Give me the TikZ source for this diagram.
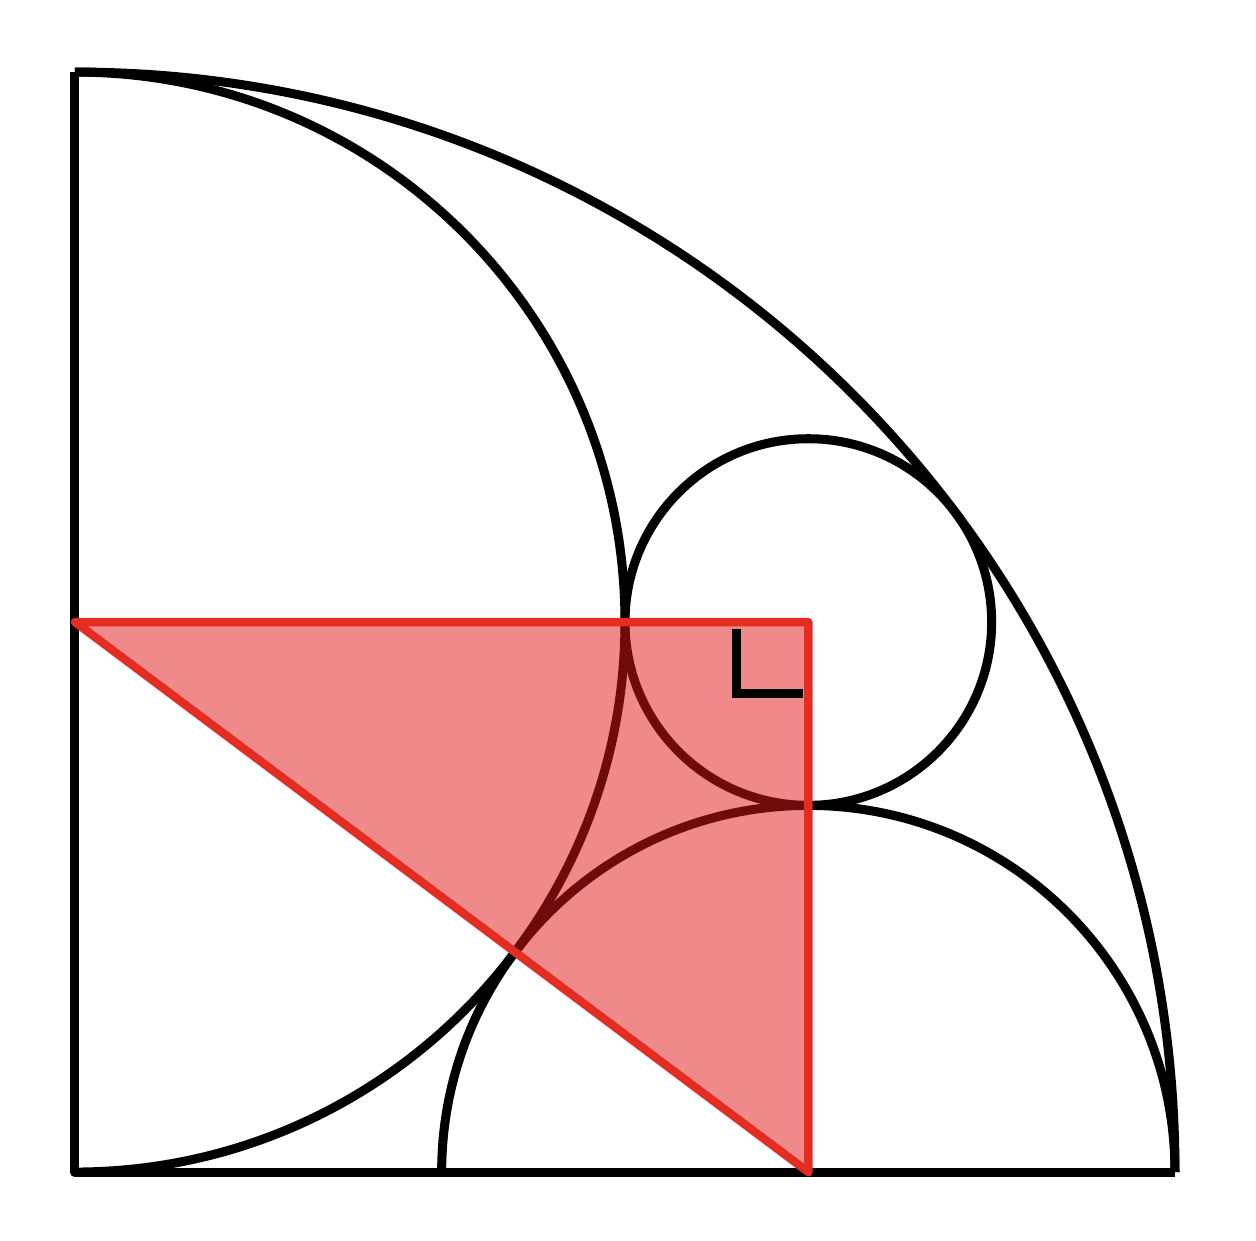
\documentclass[tikz,border=0pt]{standalone}
\usepackage{tikz}
\definecolor{figred}{RGB}{227, 45, 35}
\definecolor{figfill}{RGB}{225, 22, 22}

\begin{document}
\begin{tikzpicture}[line width=1.4pt, line join=round]
        \useasboundingbox (-0.409,-0.371) rectangle (6.442,6.393);
        \coordinate (O) at (0,0);
        \coordinate (T) at (0,6);
        \coordinate (R) at (6,0);
        \coordinate (A) at (0,3);
        \coordinate (B) at (4,3);
        \coordinate (C) at (4,0);
        \coordinate (D) at (2,0);

        \draw (R)--(O)--(T);
        \draw (T) arc (90:0:6);
        \draw (T) arc (90:-90:3);
        \draw (D) arc (180:0:2);
        \draw (B) circle (1);

        \fill[figfill, opacity=0.5] (A)--(B)--(C)--cycle;
        \draw[figred, line width=1.3pt] (A)--(B)--(C)--cycle;

        \draw[line join=miter] ([xshift=-0.03cm]B) ++(-0.36,-0.04)
          -- ++(0,-0.35) -- ++(0.36,0);
      \end{tikzpicture}
\end{document}
